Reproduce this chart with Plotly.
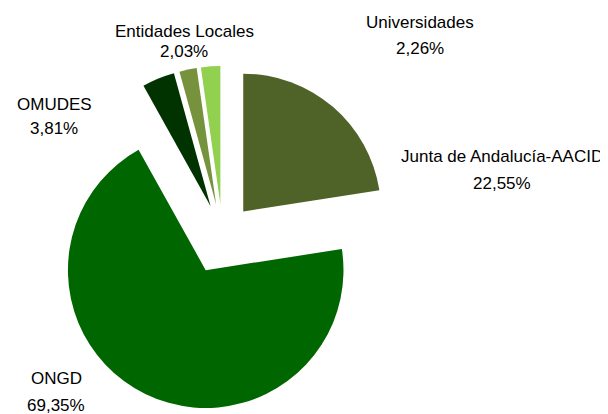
import plotly.graph_objects as go

labels = ["Junta de Andalucía-AACID", "ONGD", "OMUDES", "Entidades Locales", "Universidades"]
values = [22.55, 69.35, 3.81, 2.03, 2.26]
colors = ["#4F6228", "#006600", "#003300", "#76923C", "#92D050"]
pulls = [0.23, 0.28, 0.23, 0.23, 0.23]

# label positions (paper coords): x, y of name line, y of percent line
label_pos = [
    (0.812, 0.642, 0.577),
    (0.079, 0.104, 0.041),
    (0.076, 0.768, 0.708),
    (0.290, 0.944, 0.895),
    (0.678, 0.964, 0.901),
]

fig = go.Figure(go.Pie(
    labels=labels,
    values=values,
    marker=dict(colors=colors, line=dict(width=0)),
    pull=pulls,
    sort=False,
    direction="clockwise",
    rotation=0,
    textinfo="none",
    hoverinfo="label+percent",
    showlegend=False,
    domain=dict(x=[0.0625, 0.6435], y=[0.0245, 0.8765]),
))

for lab, val, (x, y1, y2) in zip(labels, values, label_pos):
    fig.add_annotation(x=x, y=y1, xref="paper", yref="paper", text=lab,
                       showarrow=False, xanchor="center", yanchor="middle")
    fig.add_annotation(x=x, y=y2, xref="paper", yref="paper",
                       text=f"{val:.2f}%".replace(".", ","),
                       showarrow=False, xanchor="center", yanchor="middle")

fig.update_layout(
    width=608, height=414,
    margin=dict(l=0, r=0, t=0, b=0),
    paper_bgcolor="white",
    plot_bgcolor="white",
    font=dict(family="Liberation Sans, Arial", size=17, color="black"),
)

fig.write_html("out.html")
